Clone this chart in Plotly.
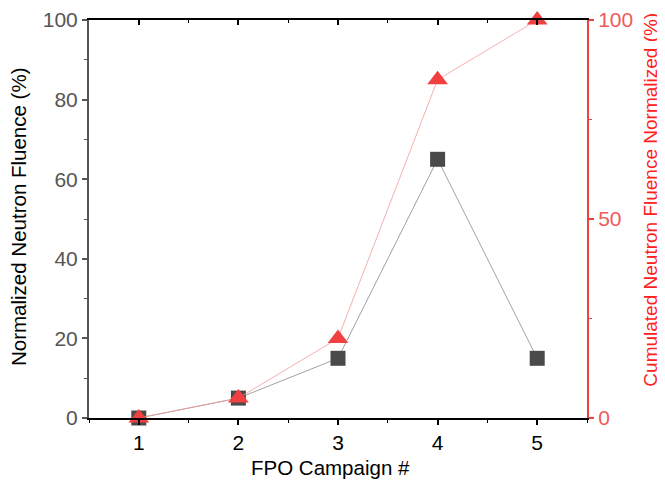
import plotly.graph_objects as go

campaign = [1, 2, 3, 4, 5]
normalized = [0, 5, 15, 65, 15]
cumulated = [0, 5, 20, 85, 100]

RED = "#f04040"
GRAY = "#555555"

fig = go.Figure()
fig.add_trace(go.Scatter(x=campaign, y=normalized, mode="lines+markers",
                         line=dict(color="#8a8a8a", width=0.8),
                         marker=dict(symbol="square", size=15, color="#4a4a4a"),
                         cliponaxis=False, showlegend=False))
fig.add_trace(go.Scatter(x=campaign, y=cumulated, mode="lines+markers", yaxis="y2",
                         line=dict(color="#f59a9a", width=0.8),
                         marker=dict(symbol="triangle-up", size=18, color=RED),
                         cliponaxis=False, showlegend=False))
# invisible trace for top axis
fig.add_trace(go.Scatter(x=campaign, y=normalized, xaxis="x2", mode="markers",
                         marker=dict(opacity=0), showlegend=False, hoverinfo="skip"))

font = "Liberation Sans, Arial, sans-serif"
fig.update_layout(
    width=657, height=475,
    margin=dict(l=81, r=78, t=12, b=65, autoexpand=False),
    plot_bgcolor="white", paper_bgcolor="white",
    font=dict(family=font),
    xaxis=dict(range=[0.5, 5.5], tickvals=campaign, ticks="outside", ticklen=5, tickwidth=1.5,
               tickcolor="black", showline=True, linecolor="black", linewidth=2,
               showgrid=False, zeroline=False, automargin=False,
               minor=dict(dtick=0.5, ticks="outside", ticklen=3, tickcolor="black", tickwidth=1.2),
               tickfont=dict(size=21, color="black")),
    xaxis2=dict(range=[0.5, 5.5], overlaying="x", side="top", tickvals=campaign, ticks="inside",
                ticklen=5, tickwidth=1.5, tickcolor="black", showline=True, linecolor="black",
                linewidth=2, showticklabels=False, showgrid=False, zeroline=False, automargin=False,
                minor=dict(dtick=0.5, ticks="inside", ticklen=3, tickcolor="black", tickwidth=1.2)),
    yaxis=dict(range=[0, 100], dtick=20, ticks="outside", ticklen=5, tickwidth=1.5,
               tickcolor=GRAY, showline=True, linecolor=GRAY, linewidth=2,
               showgrid=False, zeroline=False, automargin=False,
               minor=dict(dtick=10, ticks="outside", ticklen=3, tickcolor=GRAY, tickwidth=1.2),
               tickfont=dict(size=21, color=GRAY)),
    yaxis2=dict(range=[0, 100], overlaying="y", side="right", tickvals=[0, 50, 100],
                ticks="outside", ticklen=5, tickwidth=1.5, tickcolor=RED, showline=True,
                linecolor=RED, linewidth=2, showgrid=False, zeroline=False, automargin=False,
                minor=dict(tickvals=[25, 75], ticks="outside", ticklen=3, tickcolor=RED, tickwidth=1.2),
                tickfont=dict(size=21, color="#f05a5a")),
    annotations=[
        dict(text="Normalized Neutron Fluence (%)", xref="paper", yref="paper",
             x=-0.1426, y=0.5075, xanchor="center", yanchor="middle", textangle=-90,
             showarrow=False, font=dict(size=20.5, color="black")),
        dict(text="Cumulated Neutron Fluence Normalized (%)", xref="paper", yref="paper",
             x=1.128, y=0.548, xanchor="center", yanchor="middle", textangle=-90,
             showarrow=False, font=dict(size=19, color="#ff2020")),
        dict(text="FPO Campaign #", xref="paper", yref="paper",
             x=0.484, y=-0.1256, xanchor="center", yanchor="middle",
             showarrow=False, font=dict(size=20.5, color="black")),
    ],
)
fig.write_html("out.html")
